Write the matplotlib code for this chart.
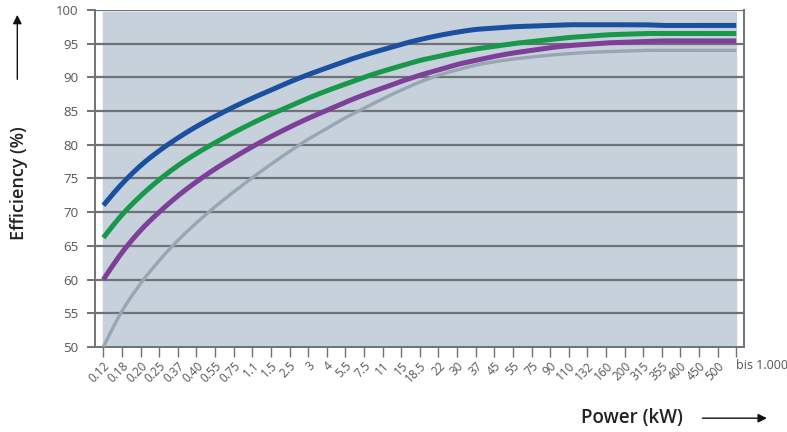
import matplotlib
matplotlib.use("Agg")
import matplotlib.pyplot as plt
import numpy as np

plt.rcParams['font.family'] = ['Open Sans', 'DejaVu Sans']

power_labels = ["0.12", "0.18", "0.20", "0.25", "0.37", "0.40", "0.55", "0.75", "1.1", "1.5",
                "2.5", "3", "4", "5.5", "7.5", "11", "15", "18.5", "22", "30",
                "37", "45", "55", "75", "90", "110", "132", "160", "200", "315",
                "355", "400", "450", "500", "bis 1.000"]

blue = [71.0, 74.2, 76.9, 79.1, 81.0, 82.7, 84.2, 85.6, 86.9, 88.1,
        89.3, 90.4, 91.4, 92.4, 93.3, 94.1, 94.9, 95.6, 96.2, 96.7,
        97.1, 97.3, 97.5, 97.6, 97.7, 97.8, 97.8, 97.8, 97.8, 97.8,
        97.7, 97.7, 97.7, 97.7, 97.7]
green = [66.2, 69.6, 72.4, 74.8, 76.9, 78.7, 80.3, 81.8, 83.2, 84.5,
         85.7, 86.9, 88.0, 89.0, 90.0, 90.9, 91.7, 92.5, 93.1, 93.7,
         94.2, 94.6, 95.0, 95.3, 95.6, 95.9, 96.1, 96.3, 96.4, 96.5,
         96.5, 96.5, 96.5, 96.5, 96.5]
purple = [60.0, 64.0, 67.3, 70.0, 72.4, 74.5, 76.4, 78.1, 79.7, 81.2,
          82.6, 83.9, 85.1, 86.3, 87.4, 88.4, 89.4, 90.3, 91.1, 91.9,
          92.5, 93.1, 93.6, 94.0, 94.4, 94.7, 94.9, 95.1, 95.2, 95.3,
          95.4, 95.4, 95.4, 95.4, 95.4]
gray = [50.0, 55.3, 59.4, 62.8, 65.8, 68.4, 70.8, 73.0, 75.1, 77.1,
        79.0, 80.8, 82.4, 84.0, 85.4, 86.8, 88.1, 89.3, 90.3, 91.1,
        91.8, 92.3, 92.7, 93.0, 93.3, 93.5, 93.7, 93.8, 93.9, 94.0,
        94.0, 94.0, 94.0, 94.0, 94.0]

x = list(range(len(power_labels)))


def smooth(xs, ys, n=12):
    # cubic hermite drawing between the read points, so the line looks round
    xs = np.asarray(xs, float)
    ys = np.asarray(ys, float)
    d = np.gradient(ys, xs)
    d[0] = 1.5 * (ys[1] - ys[0]) - 0.5 * d[1]
    out_x, out_y = [], []
    for k in range(len(xs) - 1):
        t = np.linspace(0, 1, n, endpoint=False)
        h = xs[k + 1] - xs[k]
        h00 = 2 * t**3 - 3 * t**2 + 1
        h10 = t**3 - 2 * t**2 + t
        h01 = -2 * t**3 + 3 * t**2
        h11 = t**3 - t**2
        out_x.extend(xs[k] + t * h)
        out_y.extend(h00 * ys[k] + h10 * h * d[k] + h01 * ys[k + 1] + h11 * h * d[k + 1])
    out_x.append(xs[-1])
    out_y.append(ys[-1])
    return out_x, out_y


fig = plt.figure(figsize=(7.87, 4.32), dpi=100)
ax = fig.add_axes([0.1207, 0.197, 0.8243, 0.78])

# shaded plot area starts at the first category
ax.axvspan(0, len(x) - 1, ymin=0, ymax=0.995, color="#c6d1db", zorder=0)

for yv in range(55, 101, 5):
    ax.axhline(yv, color="#6f7377", lw=1.6, zorder=1)

ax.plot(*smooth(x, gray), color="#97a6b1", lw=2.4, zorder=3, solid_capstyle="butt")
ax.plot(*smooth(x, purple), color="#7d3f98", lw=3.6, zorder=4, solid_capstyle="butt")
ax.plot(*smooth(x, green), color="#17984a", lw=3.6, zorder=5, solid_capstyle="butt")
ax.plot(*smooth(x, blue), color="#1b50a0", lw=3.6, zorder=6, solid_capstyle="butt")

ax.set_xlim(-0.45, len(x) - 1 + 0.4)
ax.set_ylim(50, 100)

ax.spines["top"].set_visible(False)
for s in ["left", "bottom", "right"]:
    ax.spines[s].set_color("#6f7377")
    ax.spines[s].set_linewidth(1.4)

ax.set_yticks(range(50, 101, 5))
ax.tick_params(axis="y", length=6, width=1.4, color="#6f7377", labelsize=9.5,
               labelcolor="#555555", pad=6)
ax.set_xticks(x)
ax.set_xticklabels(power_labels)
ax.tick_params(axis="x", length=7, width=1.0, color="#6f7377", labelsize=8.5,
               labelcolor="#555555", pad=2)
for lbl in ax.get_xticklabels()[:-1]:
    lbl.set_rotation(45)
    lbl.set_ha("right")
    lbl.set_va("top")
    lbl.set_rotation_mode("anchor")
last = ax.get_xticklabels()[-1]
last.set_rotation(0)
last.set_ha("left")
last.set_fontsize(9)

# axis titles with arrows
fig.text(0.024, 0.575, "Efficiency (%)", rotation=90, ha="center", va="center",
         fontsize=13, fontweight="semibold", color="#222222")
fig.add_artist(matplotlib.patches.FancyArrowPatch((0.022, 0.81), (0.022, 0.972),
               transform=fig.transFigure, arrowstyle="-|>", mutation_scale=13,
               color="#111111", lw=1))
fig.text(0.803, 0.032, "Power (kW)", ha="center", va="center",
         fontsize=13.5, fontweight="semibold", color="#222222")
fig.add_artist(matplotlib.patches.FancyArrowPatch((0.889, 0.032), (0.978, 0.032),
               transform=fig.transFigure, arrowstyle="-|>", mutation_scale=13,
               color="#111111", lw=1))

fig.savefig("out.png", dpi=100, facecolor="white")
